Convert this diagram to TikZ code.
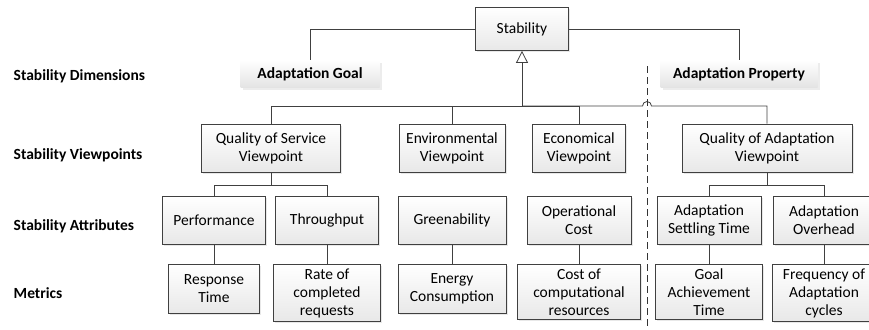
\documentclass[tikz,border=0pt]{standalone}
\usepackage{fontspec}
\setmainfont{Carlito}
\usetikzlibrary{arrows.meta,shadows}
\newcommand\labfont{\fontsize{15.5}{18}\selectfont}
\tikzset{box/.style={draw=black!75,line width=0.8pt,top color=white,bottom color=black!9,align=center,inner sep=4pt,
  drop shadow={opacity=0.18,shadow xshift=1.5pt,shadow yshift=-1.5pt}},
dimbox/.style={top color=white,bottom color=black!11,font=\labfont\bfseries,minimum height=27pt,
  drop shadow={opacity=0.15,shadow xshift=2pt,shadow yshift=-2pt}}}

\begin{document}
\begin{tikzpicture}[x=1pt,y=-1pt,font=\labfont,line width=0.8pt]
\useasboundingbox (0,0) rectangle (869,329);
% row labels
\foreach \t/\y in {Stability Dimensions/76,Stability Viewpoints/155,Stability Attributes/226,Metrics/293}
  \node[anchor=west,font=\labfont\bfseries] (lab\y) at (10,\y) {\t};
% top
\node[box,minimum width=93pt,minimum height=43pt] (stab) at (522,29) {Stability};
\node[dimbox,minimum width=139pt] (goal) at (310,74) {Adaptation Goal};
\node[dimbox,minimum width=157pt] (prop) at (739,74) {Adaptation Property};
\draw[black!75] (stab.west) -| (goal.north);\draw[black!75] (stab.east) -| (prop.north);
% viewpoints, attributes, metrics
\foreach \n/\x/\w/\t in {qos/271/139/Quality of Service\\Viewpoint,env/452/106/Environmental\\Viewpoint,
  eco/579/93/Economical\\Viewpoint,qoa/767/170/Quality of Adaptation\\Viewpoint}
  \node[box,minimum width=\w pt,minimum height=48pt] (\n) at (\x,148) {\t};
\foreach \n/\x/\w/\t in {perf/214/103/Performance,thr/327/103/Throughput,green/452/108/Greenability,
  opc/579/104/Operational\\Cost,settle/709/104/Adaptation\\Settling Time,ovh/824/102/Adaptation\\Overhead}
  \node[box,minimum width=\w pt,minimum height=48pt] (\n) at (\x,220) {\t};
\foreach \n/\a/\x/\w/\t in {resp/perf/214/91/Response\\Time,rate/thr/327/107/Rate of\\completed\\requests,
  energy/green/452/108/Energy\\Consumption,cost/opc/579/123/Cost of\\computational\\resources,
  goalt/settle/709/107/Goal\\Achievement\\Time,freq/ovh/824/104/Frequency of\\Adaptation\\cycles}
  {\node[box,anchor=north,minimum width=\w pt,minimum height=49pt] (\n) at (\x,264) {\t};
   \draw[black!75] (\a) -- (\n);}
% inheritance bus
\coordinate (hub) at (522,106);\coordinate (dtop) at (647,66);\coordinate (dbot) at (647,329);
\draw[black!75,-{Triangle[open,width=12pt,length=12pt,line width=0.8pt]}] (hub) -- (stab);
\draw[black!75] (hub) -| (qos);\draw[black!75] (hub) -| (env);\draw[black!75] (hub) -| (eco);
\draw[black!75] (hub) -- ([xshift=-4.5pt]dtop |- hub) arc[start angle=180,end angle=0,radius=4.5pt] -| (qoa);
\draw[black!80,dash pattern=on 7pt off 4pt] (dtop) -- (dbot);
% sub trees
\draw[black!75] (qos) -- ++(0,37) coordinate (qj) -| (perf);\draw[black!75] (qj) -| (thr);
\draw[black!75] (qoa) -- ++(0,37) coordinate (aj) -| (settle);\draw[black!75] (aj) -| (ovh);
\end{tikzpicture}
\end{document}
